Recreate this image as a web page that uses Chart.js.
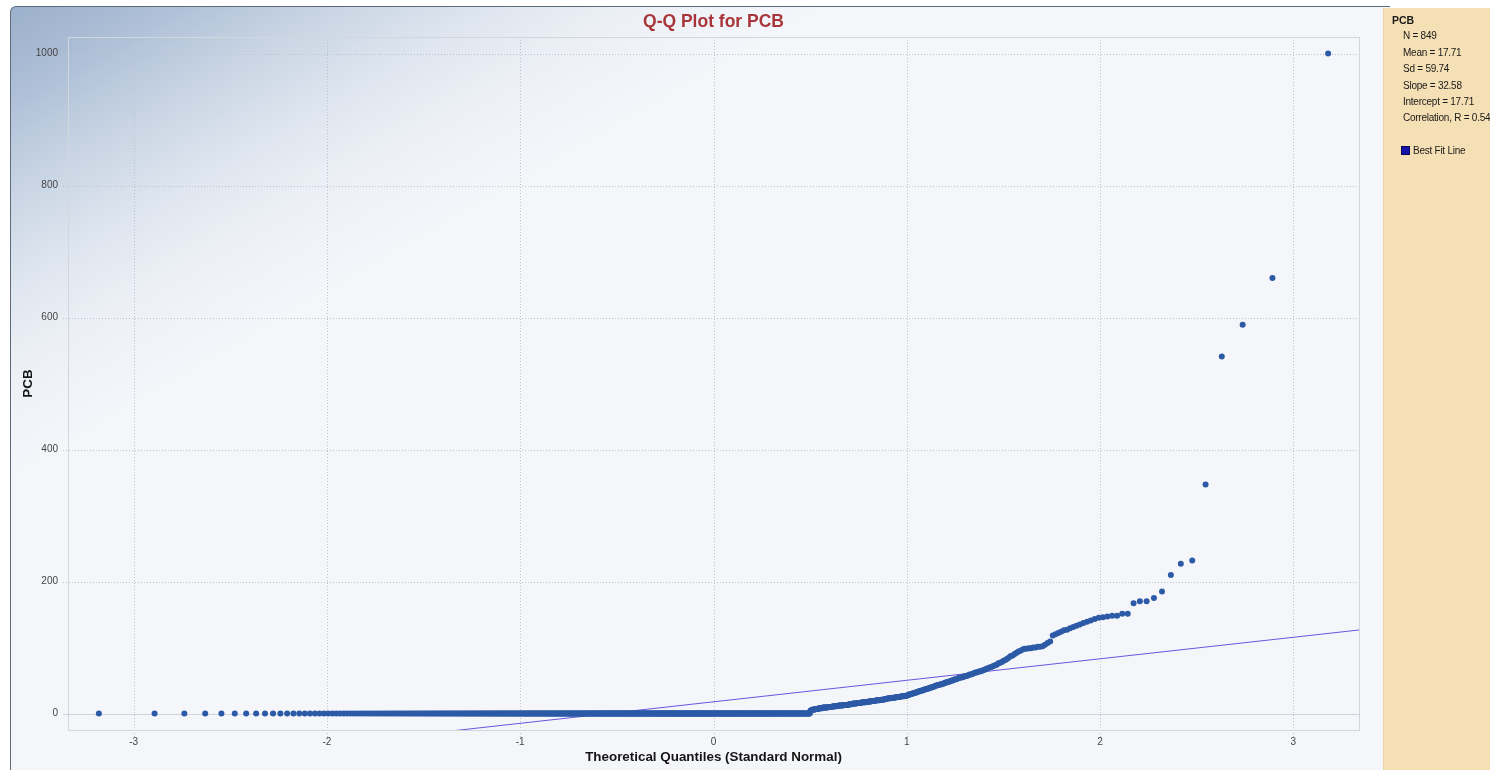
<!DOCTYPE html>
<html>
<head>
<meta charset="utf-8">
<title>Q-Q Plot for PCB</title>
<script src="https://cdn.jsdelivr.net/npm/chart.js@4.4.1/dist/chart.umd.min.js"></script>
<style>
  html, body { margin: 0; padding: 0; background: #ffffff; }
  body { width: 1490px; height: 770px; position: relative; overflow: hidden;
         font-family: "Liberation Sans", Arial, sans-serif; }
  #card { position: absolute; left: 10px; top: 6px; width: 1380px; height: 770px;
          box-sizing: border-box; border-left: 1px solid #5d6b7c; border-top: 1px solid #5d6b7c;
          border-top-left-radius: 6px;
          background: linear-gradient(150deg, #9bb0cc 0%, #afc0d7 6%, #c9d5e4 12%, #dfe6ef 18%, #ecf0f6 23%, #f4f6fa 30%, #f5f6fa 100%); }
  #panel { position: absolute; left: 1383px; top: 8px; width: 107px; height: 762px;
           background: #f5dfb4; border-left: 1px solid #ecd49e; box-sizing: border-box; }
  #chart { position: absolute; left: 0; top: 0; }
  .stat { position: absolute; font-size: 10px; line-height: 12px; color: #1a1a1a; white-space: nowrap;
          letter-spacing: -0.25px; }
  .stat.head { font-weight: bold; font-size: 10.5px; letter-spacing: 0; }
  #fitBox { position: absolute; left: 1401px; top: 146px; width: 9px; height: 9px;
            box-sizing: border-box; background: #1414a8; border: 1px solid #06065a; }
</style>
</head>
<body>
<div id="card"></div>
<div id="panel"></div>
<canvas id="chart" width="1490" height="770"></canvas>
<div id="legend"></div>
<div id="fitBox"></div>
<script>
// ---- data ----
const sampleSize = 849;
const zeroCount = 587;              // observations recorded as 0
// remaining observations, ascending
const positiveValues = [
  4, 5, 5, 5, 6, 6, 6, 6, 7, 7, 7, 7, 7, 8, 8, 8, 8, 8, 8, 9, 9, 9, 9, 9, 9, 9, 9.5, 9.5, 10,
  10, 10, 10, 10, 10.5, 10.5, 11, 11, 11, 11, 11, 11.5, 11.5, 12, 12, 12, 12, 12, 12, 12.5, 12.5, 13, 13, 13, 13, 13, 13, 13.5,
  14, 14, 14, 14, 14.5, 15, 15, 15, 15, 15, 15.5, 16, 16, 16, 16, 16, 16.5, 16.5, 17, 17, 17, 17, 17, 17.5, 17.5,
  18, 18, 18, 18, 18.5, 19, 19, 19, 19, 19.5, 20, 20, 20, 20, 20, 20.5, 21, 21, 21, 21, 22, 22, 22, 22.5,
  23, 23, 23, 23, 23.5, 24, 24, 24, 24, 24.5, 25, 25, 25, 25, 25.5, 26, 26, 26, 26, 26.5, 27, 27,
  28, 28, 29, 29, 30, 30, 31, 31, 32, 32, 33, 33, 34, 34, 35, 35, 36, 36, 37,
  37, 38, 38, 39, 39, 40, 40, 41, 42, 42, 43, 43, 44, 44, 45, 45, 46, 47,
  47, 48, 48, 49, 50, 50, 51, 52, 52, 53, 54, 54, 55, 55, 56,
  57, 57, 58, 59, 59, 60, 61, 62, 62, 63, 64, 64, 65, 66,
  67, 68, 69, 70, 71, 72, 73, 74, 76, 77, 78, 80,
  81, 83, 85, 87, 88, 90, 92, 94, 95, 97,
  98, 98, 99, 99, 100, 100, 101, 101, 102,
  104, 107, 109,
  118, 120, 122, 124,
  126, 127, 129, 131, 133, 135,
  137, 139, 141, 143, 145,
  146, 147,
  148, 148, 151, 151, 167, 170, 170,
  175, 185, 210, 227, 232, 347, 541, 589, 660, 1000
];
const fitSlope = 32.58;
const fitIntercept = 17.71;
const xRange = [-3.34, 3.34];
const yRange = [-25, 1025];
const xTicks = [-3, -2, -1, 0, 1, 2, 3];
const yTicks = [0, 200, 400, 600, 800, 1000];
const statLines = ['N = 849', 'Mean = 17.71', 'Sd = 59.74', 'Slope = 32.58', 'Intercept = 17.71', 'Correlation, R = 0.54'];

// ---- inverse standard normal CDF (Acklam) ----
function normInv(p) {
  const a = [-3.969683028665376e+01, 2.209460984245205e+02, -2.759285104469687e+02, 1.383577518672690e+02, -3.066479806614716e+01, 2.506628277459239e+00];
  const b = [-5.447609879822406e+01, 1.615858368580409e+02, -1.556989798598866e+02, 6.680131188771972e+01, -1.328068155288572e+01];
  const c = [-7.784894002430293e-03, -3.223964580411365e-01, -2.400758277161838e+00, -2.549732539343734e+00, 4.374664141464968e+00, 2.938163982698783e+00];
  const d = [7.784695709041462e-03, 3.224671290700398e-01, 2.445134137142996e+00, 3.754408661907416e+00];
  const pl = 0.02425, ph = 1 - pl;
  let q, r;
  if (p < pl) {
    q = Math.sqrt(-2 * Math.log(p));
    return (((((c[0]*q+c[1])*q+c[2])*q+c[3])*q+c[4])*q+c[5]) / ((((d[0]*q+d[1])*q+d[2])*q+d[3])*q+1);
  }
  if (p <= ph) {
    q = p - 0.5; r = q * q;
    return (((((a[0]*r+a[1])*r+a[2])*r+a[3])*r+a[4])*r+a[5])*q / (((((b[0]*r+b[1])*r+b[2])*r+b[3])*r+b[4])*r+1);
  }
  q = Math.sqrt(-2 * Math.log(1 - p));
  return -(((((c[0]*q+c[1])*q+c[2])*q+c[3])*q+c[4])*q+c[5]) / ((((d[0]*q+d[1])*q+d[2])*q+d[3])*q+1);
}

// sorted sample paired with Blom plotting positions
const sorted = new Array(zeroCount).fill(0).concat(positiveValues);
const qqPoints = sorted.map((v, i) => ({ x: normInv((i + 1 - 0.375) / (sampleSize + 0.25)), y: v }));
const fitPoints = xRange.map(x => ({ x: x, y: fitIntercept + fitSlope * x }));

// ---- side panel ----
const legend = document.getElementById('legend');
function addText(txt, left, top, cls) {
  const el = document.createElement('div');
  el.className = 'stat' + (cls ? ' ' + cls : '');
  el.style.left = left + 'px';
  el.style.top = top + 'px';
  el.textContent = txt;
  legend.appendChild(el);
}
addText('PCB', 1392, 14, 'head');
const statTops = [30, 46.5, 63, 79.5, 95.5, 112];
statLines.forEach((s, i) => addText(s, 1403, statTops[i]));
addText('Best Fit Line', 1413, 145);

// ---- plot frame and dotted grid ----
const framePlugin = {
  id: 'frame',
  beforeDatasetsDraw(chart) {
    const { ctx, chartArea: a, scales } = chart;
    ctx.save();
    ctx.lineWidth = 1;
    // vertical grid, reaching into the tick gap below the frame
    ctx.strokeStyle = '#bcc2cc';
    ctx.setLineDash([1, 2]);
    xTicks.forEach(v => {
      const px = Math.round(scales.x.getPixelForValue(v)) + 0.5;
      ctx.beginPath(); ctx.moveTo(px, a.top); ctx.lineTo(px, a.bottom + 7); ctx.stroke();
    });
    yTicks.forEach(v => {
      if (v === 0) return;
      const py = Math.round(scales.y.getPixelForValue(v)) + 0.5;
      ctx.beginPath(); ctx.moveTo(a.left - 5, py); ctx.lineTo(a.right, py); ctx.stroke();
    });
    ctx.setLineDash([]);
    // zero line
    ctx.strokeStyle = '#cfd3da';
    const p0 = Math.round(scales.y.getPixelForValue(0)) + 0.5;
    ctx.beginPath(); ctx.moveTo(a.left - 5, p0); ctx.lineTo(a.right, p0); ctx.stroke();
    // frame
    ctx.strokeStyle = '#d2d6dd';
    ctx.strokeRect(Math.round(a.left) + 0.5, Math.round(a.top) + 0.5, Math.round(a.right - a.left), Math.round(a.bottom - a.top));
    ctx.restore();
  },
  afterDraw(chart) {
    const { ctx, chartArea: a } = chart;
    const cx = (a.left + a.right) / 2;
    ctx.save();
    ctx.textAlign = 'center';
    ctx.textBaseline = 'middle';
    ctx.fillStyle = '#a8353a';
    ctx.font = 'bold 17.5px "Liberation Sans", Arial, sans-serif';
    ctx.fillText('Q-Q Plot for PCB', cx, 22);
    ctx.fillStyle = '#151515';
    ctx.font = 'bold 13.4px "Liberation Sans", Arial, sans-serif';
    ctx.fillText('Theoretical Quantiles (Standard Normal)', cx, 757);
    ctx.translate(28, (a.top + a.bottom) / 2);
    ctx.rotate(-Math.PI / 2);
    ctx.fillText('PCB', 0, 0);
    ctx.restore();
  }
};

const tickFont = { family: '"Liberation Sans", Arial, sans-serif', size: 10 };

new Chart(document.getElementById('chart'), {
  type: 'scatter',
  data: {
    datasets: [
      { label: 'PCB', data: qqPoints, backgroundColor: '#2d5aa6', borderWidth: 0,
        pointRadius: 3, pointHoverRadius: 3, order: 0 },
      { type: 'line', label: 'Best Fit Line', data: fitPoints, borderColor: '#6a55e0',
        borderWidth: 1, pointRadius: 0, fill: false, tension: 0, order: 1 }
    ]
  },
  options: {
    responsive: false,
    animation: false,
    events: [],
    layout: { padding: { left: 0, top: 37, right: 131, bottom: 0 } },
    plugins: { legend: { display: false }, tooltip: { enabled: false }, title: { display: false } },
    scales: {
      x: {
        type: 'linear', min: xRange[0], max: xRange[1],
        afterBuildTicks: s => { s.ticks = xTicks.map(v => ({ value: v })); },
        afterFit: s => { s.height = 40; },
        grid: { display: true, drawOnChartArea: false, drawTicks: true, tickLength: 4, tickColor: 'rgba(0,0,0,0)' },
        border: { display: false },
        ticks: { padding: 2, font: tickFont, color: '#444', maxRotation: 0, autoSkip: false,
                 callback: v => String(v) }
      },
      y: {
        type: 'linear', min: yRange[0], max: yRange[1],
        afterBuildTicks: s => { s.ticks = yTicks.map(v => ({ value: v })); },
        afterFit: s => { s.width = 68; },
        grid: { display: true, drawOnChartArea: false, drawTicks: true, tickLength: 5, tickColor: 'rgba(0,0,0,0)' },
        border: { display: false },
        ticks: { padding: 5, font: tickFont, color: '#444', autoSkip: false,
                 callback: v => String(v) }
      }
    }
  },
  plugins: [framePlugin]
});
</script>
</body>
</html>
